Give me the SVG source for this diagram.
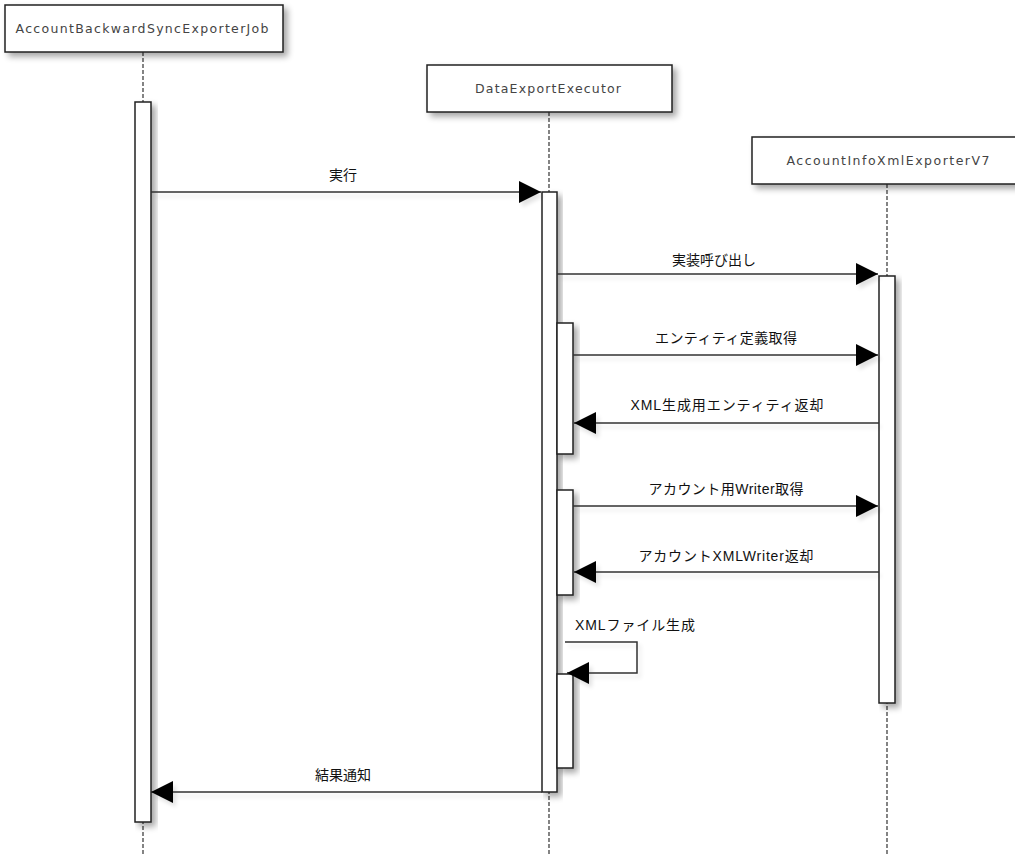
<svg xmlns="http://www.w3.org/2000/svg" width="1015" height="854" viewBox="0 0 1015 854">
<style>
.bg{fill:#ffffff}
.box{fill:#ffffff;stroke:#222;stroke-width:1.5}
.act{fill:#ffffff;stroke:#222;stroke-width:1.5}
.life{stroke:#333;stroke-width:1.2;stroke-dasharray:4 2;fill:none}
.msg{stroke:#333;stroke-width:1.5;fill:none}
.name{font-family:"DejaVu Sans","Liberation Sans",sans-serif;font-size:12.5px;fill:#444}
.lbl{font-family:"Liberation Sans","Noto Sans CJK JP",sans-serif;font-size:14px;fill:#111}
</style>
<defs>
<filter id="sh" x="-20%" y="-20%" width="160%" height="160%">
<feGaussianBlur in="SourceAlpha" stdDeviation="3"/>
<feOffset dx="4" dy="4" result="b"/>
<feComponentTransfer><feFuncA type="linear" slope="0.35"/></feComponentTransfer>
<feMerge><feMergeNode/><feMergeNode in="SourceGraphic"/></feMerge>
</filter>
<filter id="lsh" x="-5%" y="-100%" width="110%" height="400%">
<feGaussianBlur in="SourceAlpha" stdDeviation="2"/>
<feOffset dx="3" dy="4" result="b"/>
<feComponentTransfer><feFuncA type="linear" slope="0.12"/></feComponentTransfer>
<feMerge><feMergeNode/><feMergeNode in="SourceGraphic"/></feMerge>
</filter>
<marker id="ah" markerUnits="userSpaceOnUse" markerWidth="22" markerHeight="22" refX="22" refY="11" orient="auto" viewBox="0 0 22 22">
<path d="M0,0 L22,11 L0,22 z" fill="#000"/>
</marker>
</defs>
<rect class="bg" x="0" y="0" width="1015" height="854"/>

<g id="lifelines">
<line class="life" x1="143" y1="52" x2="143" y2="854"/>
<line class="life" x1="549" y1="112" x2="549" y2="854"/>
<line class="life" x1="887" y1="184" x2="887" y2="854"/>
</g>

<g id="node-job">
<rect class="box" x="5" y="5" width="278" height="47" filter="url(#sh)"/>
<text class="name" x="142" y="33" text-anchor="middle" textLength="253" lengthAdjust="spacing">AccountBackwardSyncExporterJob</text>
<rect class="act" x="135" y="102" width="16" height="720" filter="url(#sh)"/>
</g>

<g id="node-executor">
<rect class="box" x="427" y="65" width="245" height="47" filter="url(#sh)"/>
<text class="name" x="548" y="93" text-anchor="middle" textLength="146" lengthAdjust="spacing">DataExportExecutor</text>
<rect class="act" x="542" y="192" width="15" height="600" filter="url(#sh)"/>
<rect class="act" x="557" y="323" width="16" height="131" filter="url(#sh)"/>
<rect class="act" x="557" y="490" width="16" height="105" filter="url(#sh)"/>
<rect class="act" x="557" y="674" width="16" height="94" filter="url(#sh)"/>
</g>

<g id="node-exporter">
<rect class="box" x="752" y="137" width="272" height="47" filter="url(#sh)"/>
<text class="name" x="888" y="165" text-anchor="middle" textLength="203" lengthAdjust="spacing">AccountInfoXmlExporterV7</text>
<rect class="act" x="879" y="276" width="16" height="427" filter="url(#sh)"/>
</g>

<g id="connectors">
<g filter="url(#lsh)">
<line class="msg" x1="151" y1="192" x2="541" y2="192" marker-end="url(#ah)"/>
<line class="msg" x1="557" y1="274" x2="878" y2="274" marker-end="url(#ah)"/>
<line class="msg" x1="573" y1="355" x2="878" y2="355" marker-end="url(#ah)"/>
<line class="msg" x1="879" y1="423" x2="574" y2="423" marker-end="url(#ah)"/>
<line class="msg" x1="573" y1="506" x2="878" y2="506" marker-end="url(#ah)"/>
<line class="msg" x1="879" y1="572" x2="574" y2="572" marker-end="url(#ah)"/>
<path class="msg" d="M565,642 H637 V673 H567" marker-end="url(#ah)"/>
<line class="msg" x1="542" y1="792" x2="151" y2="792" marker-end="url(#ah)"/>
</g>
<text class="lbl" x="343" y="180" text-anchor="middle">実行</text>
<text class="lbl" x="714" y="265" text-anchor="middle">実装呼び出し</text>
<text class="lbl" x="726" y="343" text-anchor="middle" textLength="142" lengthAdjust="spacing">エンティティ定義取得</text>
<text class="lbl" x="727" y="410" text-anchor="middle" textLength="193" lengthAdjust="spacing">XML生成用エンティティ返却</text>
<text class="lbl" x="726" y="494" text-anchor="middle" textLength="155" lengthAdjust="spacing">アカウント用Writer取得</text>
<text class="lbl" x="726" y="561" text-anchor="middle" textLength="175" lengthAdjust="spacing">アカウントXMLWriter返却</text>
<text class="lbl" x="575" y="630" textLength="120" lengthAdjust="spacing">XMLファイル生成</text>
<text class="lbl" x="343" y="780" text-anchor="middle">結果通知</text>
</g>
</svg>
